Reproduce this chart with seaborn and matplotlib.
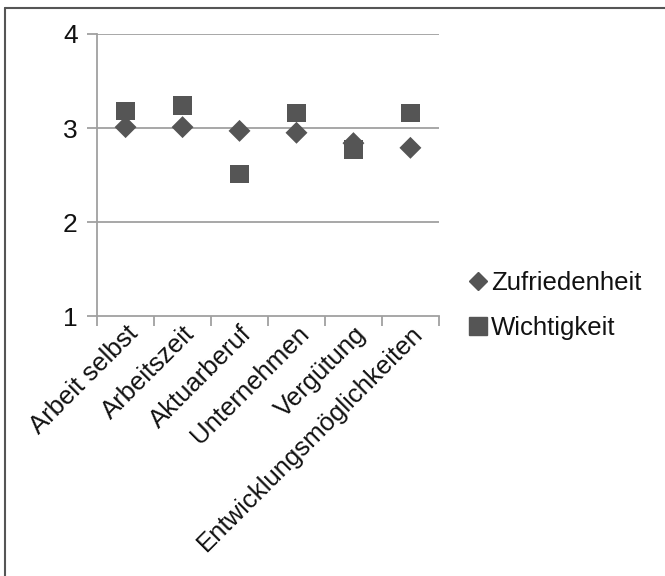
import matplotlib
matplotlib.use("Agg")
import matplotlib.pyplot as plt
import seaborn as sns
import pandas as pd
from matplotlib.lines import Line2D

categories = ["Arbeit selbst", "Arbeitszeit", "Aktuarberuf", "Unternehmen",
              "Vergütung", "Entwicklungsmöglichkeiten"]
zufriedenheit = [3.01, 3.01, 2.97, 2.95, 2.84, 2.79]
wichtigkeit = [3.18, 3.24, 2.51, 3.16, 2.77, 3.16]
series_names = ["Zufriedenheit", "Wichtigkeit"]
y_ticks = [1, 2, 3, 4]

sns.set_theme(style="white")
plt.rcParams['font.family'] = ['Liberation Sans', 'DejaVu Sans']

df = pd.DataFrame({
    "Kategorie": categories * 2,
    "Wert": zufriedenheit + wichtigkeit,
    "Serie": [series_names[0]] * len(categories) + [series_names[1]] * len(categories),
})

fig = plt.figure(figsize=(6.65, 5.76), dpi=100)
ax = fig.add_axes([0.146, 0.451, 0.514, 0.490])

color = "#555555"
grid_c = "#a0a0a0"
txt_c = "#111111"

for v in y_ticks[1:]:
    ax.axhline(v, color=grid_c, lw=1.3, zorder=0)

sns.scatterplot(data=df[df.Serie == "Wichtigkeit"], x="Kategorie", y="Wert",
                marker="s", s=180, color=color, edgecolor="none", ax=ax,
                zorder=3, legend=False)
sns.scatterplot(data=df[df.Serie == "Zufriedenheit"], x="Kategorie", y="Wert",
                marker="D", s=125, color=color, edgecolor="none", ax=ax,
                zorder=4, legend=False)

ax.set_xlim(-0.5, len(categories) - 0.5)
ax.set_ylim(1, 4)
ax.set_yticks(y_ticks)
ax.set_yticklabels([str(t) for t in y_ticks], fontsize=19, color=txt_c)
ax.set_xticks(range(len(categories)))
ax.set_xticklabels(categories, rotation=45, ha="right", rotation_mode="anchor",
                   fontsize=18.5, color=txt_c)
ax.set_xticks([i - 0.5 for i in range(len(categories) + 1)], minor=True)
ax.tick_params(axis="x", which="major", length=0, pad=4)
ax.tick_params(axis="x", which="minor", length=7, width=1.3, color=grid_c,
               direction="out", bottom=True)
ax.tick_params(axis="y", which="major", length=7, width=1.3, color=grid_c,
               direction="out", left=True, pad=7)
ax.set_xlabel("")
ax.set_ylabel("")
for s in ["top", "right"]:
    ax.spines[s].set_visible(False)
for s in ["left", "bottom"]:
    ax.spines[s].set_color(grid_c)
    ax.spines[s].set_linewidth(1.3)

handles = [
    Line2D([], [], marker="D", color=color, ls="none", markersize=9),
    Line2D([], [], marker="s", color=color, ls="none", markersize=13),
]
leg = fig.legend(handles, series_names, loc="center left",
                 bbox_to_anchor=(0.665, 0.470), frameon=False, fontsize=18.5,
                 handletextpad=0.0, labelspacing=0.8, handlelength=1.0)
for t in leg.get_texts():
    t.set_color(txt_c)

fig.add_artist(Line2D([0.0075, 1.0], [0.986, 0.986], color="#555555", lw=1.5,
                      transform=fig.transFigure))
fig.add_artist(Line2D([0.0075, 0.0075], [0.0, 0.986], color="#555555", lw=1.5,
                      transform=fig.transFigure))

fig.savefig("out.png", dpi=100)
